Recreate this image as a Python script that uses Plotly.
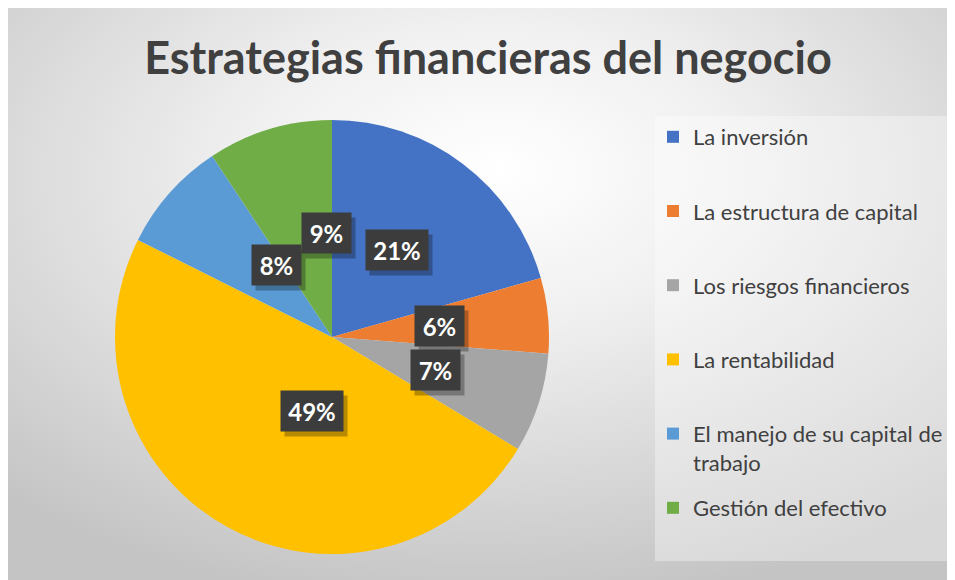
import base64
import math

import plotly.graph_objects as go

# data
categories = ['La inversión', 'La estructura de capital', 'Los riesgos financieros',
              'La rentabilidad', 'El manejo de su capital de trabajo', 'Gestión del efectivo']
legend_text = ['La inversión', 'La estructura de capital', 'Los riesgos financieros',
               'La rentabilidad', 'El manejo de su capital de<br>trabajo', 'Gestión del efectivo']
values = [20.6, 5.6, 7.4, 48.7, 8.3, 9.3]
colors = ['#4472C4', '#ED7D31', '#A5A5A5', '#FFC000', '#5B9BD5', '#70AD47']
title = 'Estrategias financieras del negocio'

# the page puts the figure 8px in from the top-left corner
OFF = 8
W, H = 955 - OFF, 580 - OFF
cx, cy, R = 332 - OFF, 337 - OFF, 217     # pie centre / radius in figure px
TXT = '#404040'


def background_uri():
    svg = ('<svg xmlns="http://www.w3.org/2000/svg" width="947" height="572" viewBox="0 0 947 572" '
           'preserveAspectRatio="none">'
           '<defs><radialGradient id="g" cx="0.5" cy="0.3" r="0.75" fx="0.52" fy="0.28">'
           '<stop offset="0" stop-color="#ffffff"/>'
           '<stop offset="0.35" stop-color="#f0f0f0"/>'
           '<stop offset="1" stop-color="#c4c4c4"/>'
           '</radialGradient></defs>'
           '<rect width="947" height="572" fill="url(#g)"/></svg>')
    return 'data:image/svg+xml;base64,' + base64.b64encode(svg.encode()).decode()


fig = go.Figure()

fig.add_trace(go.Pie(labels=categories, values=values, sort=False, direction='clockwise',
                     rotation=0, textinfo='none', hoverinfo='label+percent', showlegend=False,
                     marker=dict(colors=colors, line=dict(width=0)),
                     domain=dict(x=[(cx - R) / W, (cx + R) / W],
                                 y=[1 - (cy + R) / H, 1 - (cy - R) / H])))

# legend entries (one group each so the gap between them can be set)
for i, name in enumerate(legend_text):
    label = name if '<br>' in name else name + '<br> '
    fig.add_trace(go.Scatter(x=[None], y=[None], mode='markers', name=label,
                             legendgroup=f'g{i}', showlegend=True,
                             marker=dict(symbol='square', size=13, color=colors[i])))

# percentage labels in dark boxes, at the middle angle of each slice, half radius
total = sum(values)
cum = 0
for v in values:
    mid = (cum + v / 2) / total * 2 * math.pi
    cum += v
    px = cx + 0.5 * R * math.sin(mid)
    py = cy - 0.5 * R * math.cos(mid)
    pct = f'{round(v / total * 100)}%'
    bw = 13 * len(pct) + 23
    common = dict(x=px / W, y=1 - py / H, xref='paper', yref='paper', showarrow=False,
                  borderpad=0, width=bw, height=40)
    fig.add_annotation(**common, text='&nbsp;', xshift=4, yshift=-5,
                       bgcolor='rgba(0,0,0,0.28)')
    fig.add_annotation(**common, text=f'<b>{pct}</b>', bgcolor='#3c3c3c',
                       font=dict(family='Lato', size=24, color='white'))

fig.add_layout_image(dict(source=background_uri(), xref='paper', yref='paper',
                          x=0, y=1, sizex=1, sizey=1,
                          xanchor='left', yanchor='top', sizing='stretch', layer='below'))

# legend panel
fig.add_shape(type='rect', xref='paper', yref='paper', layer='below',
              x0=(655 - OFF) / W, x1=(952 - OFF) / W, y0=1 - (561 - OFF) / H, y1=1 - (116 - OFF) / H,
              fillcolor='rgba(255,255,255,0.35)', line=dict(width=0))

fig.update_layout(width=W, height=H, margin=dict(l=0, r=0, t=0, b=0),
                  paper_bgcolor='white', plot_bgcolor='rgba(0,0,0,0)',
                  title=dict(text=f'<b>{title}</b>', x=(488 - OFF) / W, xanchor='center',
                             y=1 - (58 - OFF) / H, yanchor='middle',
                             font=dict(family='Lato', size=45, color=TXT)),
                  legend=dict(x=(653 - OFF) / W, y=1 - (116 - OFF) / H, xanchor='left', yanchor='top',
                              bgcolor='rgba(0,0,0,0)', valign='top', tracegroupgap=14,
                              font=dict(family='Lato', size=22, color=TXT),
                              itemsizing='constant'),
                  xaxis=dict(visible=False), yaxis=dict(visible=False))

fig.write_html('out.html')
